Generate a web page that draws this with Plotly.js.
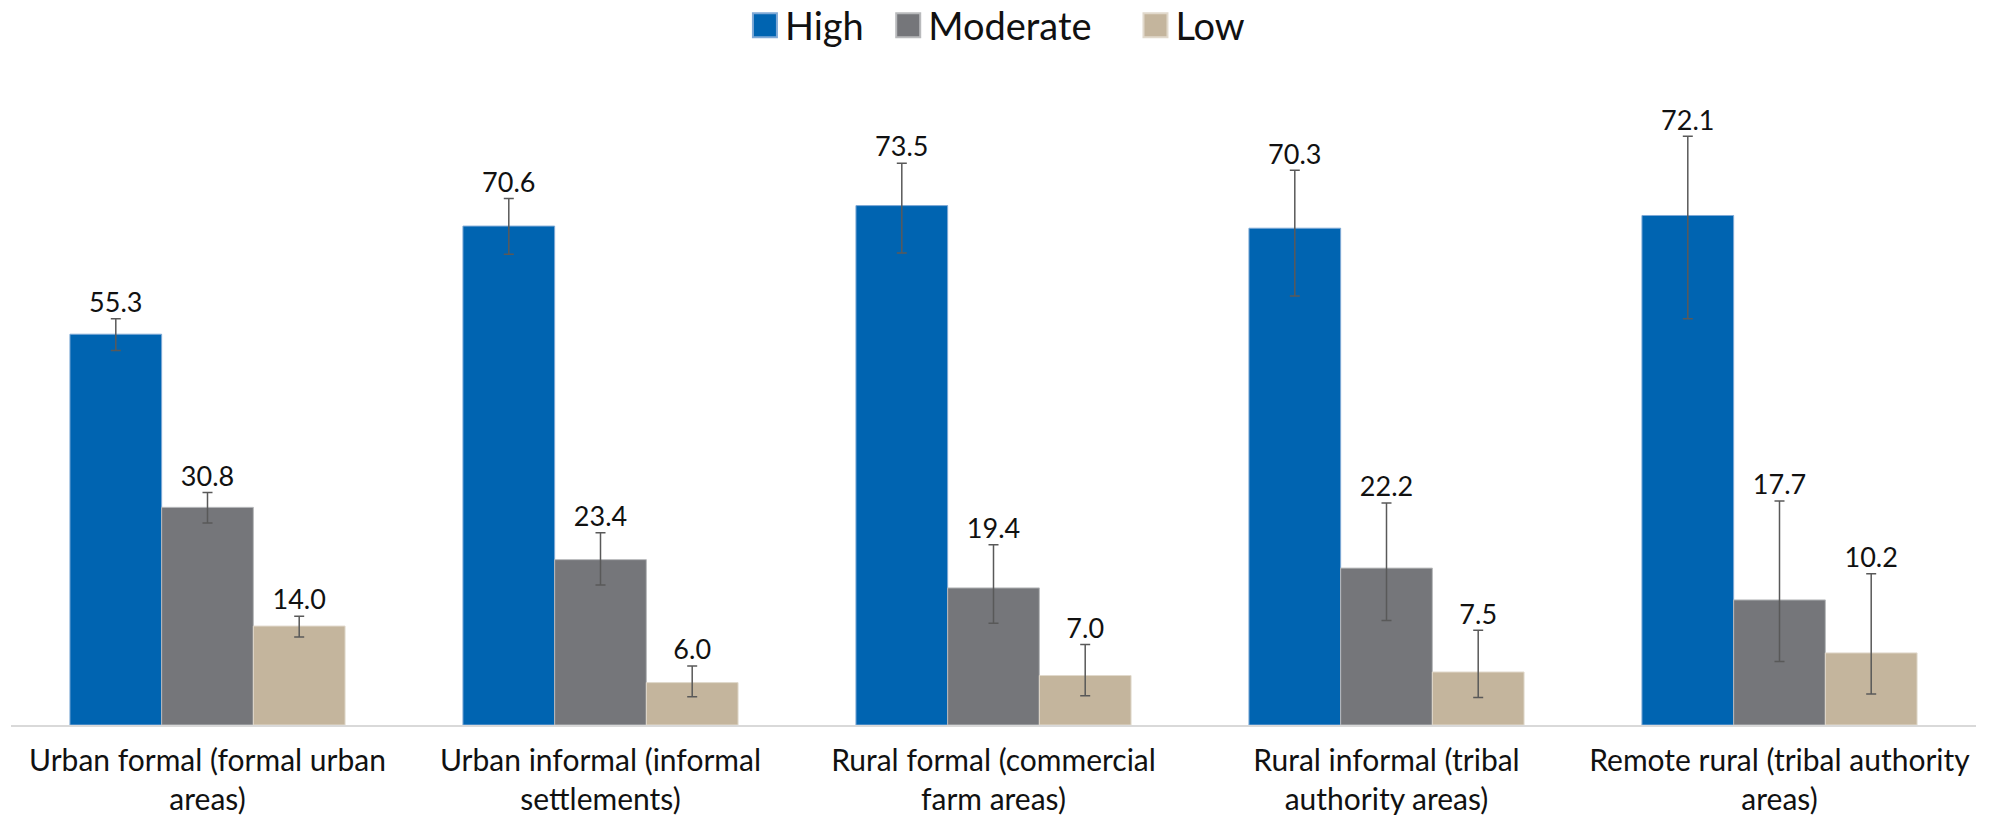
<!DOCTYPE html>
<html>
<head>
<meta charset="utf-8">
<script src="https://cdn.plot.ly/plotly-3.0.1.min.js"></script>
<style>html,body{margin:0;padding:0;background:#fff;}#chart{width:1995px;height:822px;}</style>
</head>
<body>
<div id="chart"></div>
<script>
const categories = [
  "Urban formal (formal urban<br>areas)",
  "Urban informal (informal<br>settlements)",
  "Rural formal (commercial<br>farm areas)",
  "Rural informal (tribal<br>authority areas)",
  "Remote rural (tribal authority<br>areas)"
];
const seriesNames = ["High", "Moderate", "Low"];
const highValues = [55.3, 70.6, 73.5, 70.3, 72.1];
const moderateValues = [30.8, 23.4, 19.4, 22.2, 17.7];
const lowValues = [14.0, 6.0, 7.0, 7.5, 10.2];
// asymmetric confidence intervals: distance above / below the value
const highErrPlus = [2.2, 3.9, 6.0, 8.2, 11.2];
const highErrMinus = [2.3, 4.0, 6.7, 9.6, 14.6];
const moderateErrPlus = [2.1, 3.8, 6.1, 9.2, 14.0];
const moderateErrMinus = [2.2, 3.6, 5.0, 7.4, 8.7];
const lowErrPlus = [1.4, 2.35, 4.4, 5.9, 11.2];
const lowErrMinus = [1.55, 2.0, 2.85, 3.6, 5.8];

const colors = ["#0064B1", "#75767A", "#C4B59D"];
const edgeColors = ["#7FA9D6", "#B9BABC", "#E1D9CC"];
const values = [highValues, moderateValues, lowValues];
const errPlus = [highErrPlus, moderateErrPlus, lowErrPlus];
const errMinus = [highErrMinus, moderateErrMinus, lowErrMinus];
const FONT = "Lato, 'Liberation Sans', sans-serif";
const NB = "\u00a0";
const legendNames = [seriesNames[0] + NB.repeat(2), seriesNames[1] + NB.repeat(4), seriesNames[2]];

const traces = [];
values.forEach((vals, i) => {
  traces.push({
    type: "bar",
    name: legendNames[i],
    x: categories,
    y: vals,
    offsetgroup: String(i),
    marker: {color: colors[i], line: {color: edgeColors[i], width: 1}},
    error_y: {type: "data", symmetric: false, array: errPlus[i], arrayminus: errMinus[i],
              visible: true, color: "#595959", thickness: 1.5, width: 5},
    hoverinfo: "skip"
  });
});
values.forEach((vals, i) => {
  traces.push({
    type: "scatter",
    mode: "text",
    x: categories,
    y: vals.map((v, j) => v + errPlus[i][j]),
    text: vals.map(v => v.toFixed(1)),
    textposition: "top center",
    textfont: {family: FONT, size: 27, color: "#111"},
    offsetgroup: String(i),
    showlegend: false,
    hoverinfo: "skip",
    cliponaxis: false
  });
});

const layout = {
  width: 1995,
  height: 822,
  paper_bgcolor: "#fff",
  plot_bgcolor: "#fff",
  margin: {l: 11, r: 19, t: 89, b: 97, autoexpand: false},
  barmode: "group",
  bargap: 0.3,
  bargroupgap: 0,
  scattermode: "group",
  scattergap: 0.3,
  font: {family: FONT, color: "#111"},
  showlegend: true,
  legend: {
    orientation: "h",
    x: 0.502, xanchor: "center",
    yref: "container", y: 0.969, yanchor: "middle",
    font: {family: FONT, size: 38, color: "#111"},
    traceorder: "normal",
    itemclick: false
  },
  xaxis: {
    type: "category",
    showline: true,
    linecolor: "#D9D9D9",
    linewidth: 2,
    ticks: "outside",
    ticklen: 8,
    tickcolor: "rgba(0,0,0,0)",
    tickfont: {family: FONT, size: 30, color: "#111"},
    showgrid: false,
    zeroline: false,
    fixedrange: true
  },
  yaxis: {
    range: [0, 90],
    visible: false,
    showgrid: false,
    zeroline: false,
    fixedrange: true
  }
};

Plotly.newPlot("chart", traces, layout, {displayModeBar: false, staticPlot: true}).then(gd => {
  // enlarge the legend swatches to match the square keys of the original
  gd.querySelectorAll(".legend .legendpoints path").forEach(p => {
    const t = p.getAttribute("transform") || "";
    p.setAttribute("transform", t + " scale(2)");
  });
});
</script>
</body>
</html>
